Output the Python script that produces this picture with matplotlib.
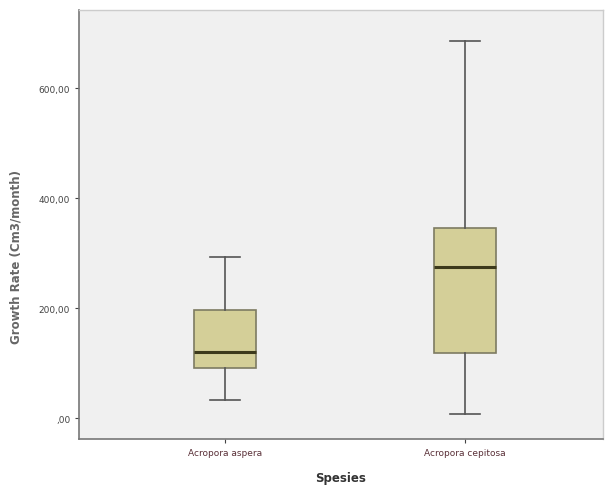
import matplotlib.pyplot as plt
from matplotlib.ticker import FuncFormatter

species = ["Acropora aspera", "Acropora cepitosa"]
whis_lo = [33, 7]
q1 = [91, 118]
median = [120, 275]
q3 = [196, 345]
whis_hi = [293, 685]
yticks = [0, 200, 400, 600]

stats = []
for i in range(len(species)):
    stats.append({"label": species[i], "whislo": whis_lo[i], "q1": q1[i],
                  "med": median[i], "q3": q3[i], "whishi": whis_hi[i], "fliers": []})

fig = plt.figure(figsize=(6.09, 4.89), dpi=100)
ax = fig.add_axes([0.130, 0.100, 0.860, 0.877])
ax.set_facecolor("#f0f0f0")

edge = "#7d7b62"
ax.bxp(stats, positions=[1, 2], widths=0.258, patch_artist=True, showfliers=False,
       boxprops=dict(facecolor="#d4cf98", edgecolor=edge, linewidth=1.2),
       whiskerprops=dict(color="#555555", linewidth=1.2),
       capprops=dict(color="#555555", linewidth=1.2),
       medianprops=dict(color="#3d3a1c", linewidth=2.2),
       capwidths=0.125)

ax.set_xlim(0.392, 2.575)
ax.set_ylim(-38.2, 741.8)
ax.set_yticks(yticks)
ax.yaxis.set_major_formatter(FuncFormatter(lambda v, p: ",00" if v == 0 else f"{v:.2f}".replace(".", ",")))
ax.set_xticks([1, 2])
ax.set_xticklabels(species, fontsize=6.5)
ax.tick_params(axis="y", labelsize=6.5, colors="#444444", length=3)
ax.tick_params(axis="x", length=3, colors="#444444")
for lbl in ax.get_xticklabels():
    lbl.set_color("#5a3038")

for s in ["left", "bottom"]:
    ax.spines[s].set_color("#777777")
    ax.spines[s].set_linewidth(1.2)
for s in ["top", "right"]:
    ax.spines[s].set_color("#cccccc")
    ax.spines[s].set_linewidth(1.0)

ax.set_xlabel("Spesies", fontsize=8.5, fontweight="bold", color="#333333", labelpad=10)
ax.set_ylabel("Growth Rate (Cm3/month)", fontsize=8.5, fontweight="bold", color="#666666")
ax.yaxis.set_label_coords(-0.108, 0.427)

fig.savefig("out.png", dpi=100)
